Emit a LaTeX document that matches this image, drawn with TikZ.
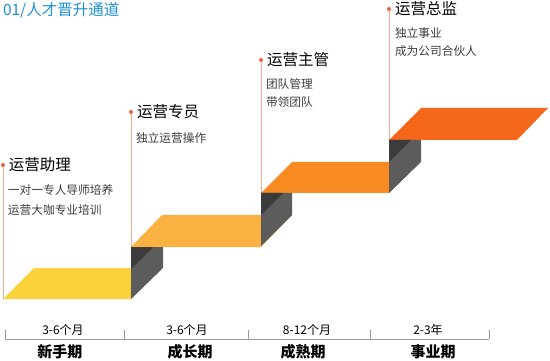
\documentclass[tikz,border=0pt]{standalone}
\usepackage{fontspec}
\setmainfont{Noto Sans CJK SC}
\usepackage{xcolor}
\usepackage{tikz}
\usetikzlibrary{positioning}
\definecolor{titleblue}{RGB}{30,144,216}
\definecolor{stepA}{RGB}{251,210,58}
\definecolor{stepB}{RGB}{251,178,66}
\definecolor{stepC}{RGB}{247,138,32}
\definecolor{stepD}{RGB}{245,104,28}
\definecolor{riserlight}{RGB}{92,92,92}
\definecolor{riserdark}{RGB}{60,60,60}
\definecolor{guideline}{RGB}{242,170,140}
\definecolor{dotred}{RGB}{234,100,58}
\definecolor{subgray}{RGB}{60,60,60}

\begin{document}
\begin{tikzpicture}[x=1pt, y=-1pt, every node/.style={inner sep=0pt, outer sep=0pt},
    rolename/.style={anchor=west, font=\fontsize{15.5}{15.5}\selectfont, text=black},
    roletask/.style={anchor=west, font=\fontsize{11.7}{11.7}\selectfont, text=subgray},
    rolepin/.style={circle, fill=dotred, minimum size=4pt},
    guide/.style={draw=guideline, line width=0.8pt},
    timespan/.style={font=\fontsize{12}{12}\selectfont},
    stagename/.style={font=\bfseries\fontsize{15}{15}\selectfont},
    axisline/.style={draw=gray!80, line width=0.7pt}]
        \useasboundingbox (0,0) rectangle (550,361);

        % Title
        \node[anchor=west, text=titleblue, font=\fontsize{15.5}{15.5}\selectfont] (title) at (3,10) {01/人才晋升通道};

        % Pins and guide lines
        \node[rolepin] (pin1) at (3,165) {};
        \node[rolepin] (pin2) at (131,112) {};
        \node[rolepin] (pin3) at (261,60) {};
        \node[rolepin] (pin4) at (389,9) {};
        \coordinate (foot1) at (3,299);
        \coordinate (foot2) at (131,247);
        \coordinate (foot3) at (261,193);
        \coordinate (foot4) at (389,140);
        \draw[guide] (pin1) -- (foot1);
        \draw[guide] (pin2) -- (foot2);
        \draw[guide] (pin3) -- (foot3);
        \draw[guide] (pin4) -- (foot4);

        % Treads
        \fill[stepA] (3,299) -- (131,299) -- (162,268) -- (34,268) -- cycle;
        \fill[stepB] (131,247) -- (261,247) -- (292,215) -- (162,215) -- cycle;
        \fill[stepC] (261,193) -- (389,193) -- (420,162) -- (292,162) -- cycle;
        \fill[stepD] (389,140) -- (517,140) -- (548,108) -- (421,108) -- cycle;

        % Risers
        \fill[riserlight] (131,247) -- (163,247) -- (163,268) -- (131,299) -- cycle;
        \fill[riserdark] (131,247) -- (153,247) -- (131,269) -- cycle;
        \fill[riserlight] (261,193) -- (292,193) -- (292,215) -- (261,246) -- cycle;
        \fill[riserdark] (261,193) -- (283,193) -- (261,215) -- cycle;
        \fill[riserlight] (389,140) -- (421,140) -- (421,162) -- (389,193) -- cycle;
        \fill[riserdark] (389,140) -- (411,140) -- (389,162) -- cycle;

        % Roles
        \node[rolename] (role1) at (9,165) {运营助理};
        \node[roletask] (task1a) at (8,190) {一对一专人导师培养};
        \node[roletask] (task1b) at (8,210) {运营大咖专业培训};

        \node[rolename] (role2) at (137,112) {运营专员};
        \node[roletask] (task2a) at (136,138) {独立运营操作};

        \node[rolename] (role3) at (267,60) {运营主管};
        \node[roletask] (task3a) at (266,84) {团队管理};
        \node[roletask] (task3b) at (266,102) {带领团队};

        \node[rolename] (role4) at (395,9) {运营总监};
        \node[roletask] (task4a) at (395,33) {独立事业};
        \node[roletask] (task4b) at (395,51) {成为公司合伙人};

        % Time axis
        \coordinate (tick0) at (5,339);
        \coordinate (tick1) at (124,339);
        \coordinate (tick2) at (248,339);
        \coordinate (tick3) at (370,339);
        \coordinate (tick4) at (489,339);
        \draw[axisline] (tick0) -- (tick4);
        \draw[axisline] (tick0) -- ++(0,-9);
        \draw[axisline] (tick1) -- ++(0,-9);
        \draw[axisline] (tick2) -- ++(0,-9);
        \draw[axisline] (tick3) -- ++(0,-9);
        \draw[axisline] (tick4) -- ++(0,-9);

        \node[timespan] (span1) at (63,330) {3-6个月};
        \node[timespan] (span2) at (187,330) {3-6个月};
        \node[timespan] (span3) at (307,330) {8-12个月};
        \node[timespan] (span4) at (428,330) {2-3年};

        \node[stagename] (stage1) at (60,352) {新手期};
        \node[stagename] (stage2) at (190,352) {成长期};
        \node[stagename] (stage3) at (303,352) {成熟期};
        \node[stagename] (stage4) at (433,352) {事业期};
    \end{tikzpicture}
\end{document}
